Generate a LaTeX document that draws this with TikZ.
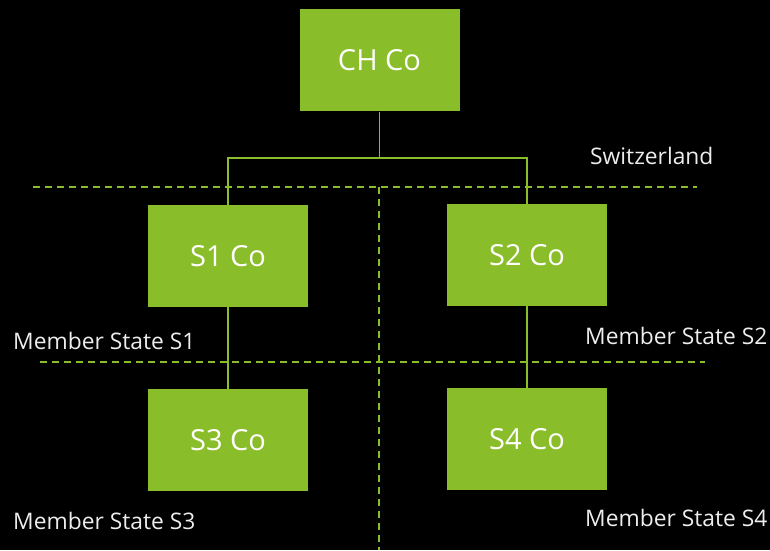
\documentclass[tikz,border=0pt]{standalone}
\usepackage{fontspec}
\setmainfont{Open Sans}
\definecolor{cogreen}{HTML}{8ABD2A}
\definecolor{lblgray}{HTML}{EDEDED}
\begin{document}
\begin{tikzpicture}[x=1pt,y=-1pt,
    company/.style={fill=cogreen, minimum width=160pt, minimum height=102pt, inner sep=0pt, text=white, font=\fontsize{29}{34}\selectfont},
    link/.style={draw=cogreen, line width=1.5pt},
    border/.style={draw=cogreen, line width=1.3pt, dash pattern=on 7pt off 5pt},
    region/.style={text=lblgray, font=\fontsize{22.8}{27}\selectfont, inner sep=0pt, anchor=west}
  ]
    \fill[black] (0,0) rectangle (770,550);
    % borders between countries
    \coordinate (chl) at (33,187);
    \coordinate (chr) at (697,187);
    \coordinate (msl) at (40,362);
    \coordinate (msr) at (705,362);
    \coordinate (vtop) at (379,187);
    \coordinate (vbot) at (379,550);
    \draw[border] (chl) -- (chr);
    \draw[border] (msl) -- (msr);
    \draw[border] (vtop) -- (vbot);
    % companies
    \node[company] (chco) at (379.5,60.5) {CH Co};
    \node[company] (sone) at (228,256) {S1 Co};
    \node[company] (stwo) at (527,255) {S2 Co};
    \node[company] (sthree) at (228,440) {S3 Co};
    \node[company] (sfour) at (527,439) {S4 Co};
    % ownership
    \coordinate (split) at (379.5,158);
    \draw[link] (chco.south) -- (split) -| (sone.north);
    \draw[link] (split) -| (stwo.north);
    \draw[link] (sone.south) -- (sthree.north);
    \draw[link] (stwo.south) -- (sfour.north);
    % countries
    \node[region] (swiss) at (590,156) {Switzerland};
    \node[region] (msone) at (13,341) {Member State S1};
    \node[region] (mstwo) at (585,336) {Member State S2};
    \node[region] (msthree) at (13,521) {Member State S3};
    \node[region] (msfour) at (585,518) {Member State S4};
\end{tikzpicture}
\end{document}
